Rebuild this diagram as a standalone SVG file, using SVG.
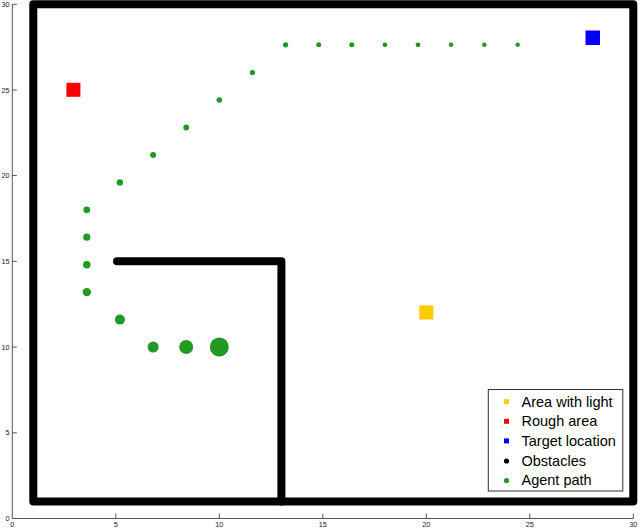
<svg xmlns="http://www.w3.org/2000/svg" width="640" height="528" viewBox="0 0 640 528">
<style>
.ax{stroke:#555;stroke-width:1;fill:none}
.tl{font-family:"Liberation Sans",Arial,sans-serif;font-size:7.3px;fill:#222}
.wall{stroke:#000;stroke-width:8;fill:none;stroke-linecap:round;stroke-linejoin:round}
.p{fill:#229922}
.lg{font-family:"Liberation Sans",Arial,sans-serif;font-size:14.5px;fill:#000}
</style>
<rect width="640" height="528" fill="#fff"/>
<g id="axes">
<path class="ax" d="M12.3,4V518.5H633.3"/>
<path class="ax" d="M12.3,4.3h4.5M12.3,90h4.5M12.3,175.5h4.5M12.3,261.3h4.5M12.3,347h4.5M12.3,432.8h4.5M115.8,518.5v-5M219.3,518.5v-5M322.8,518.5v-5M426.3,518.5v-5M529.8,518.5v-5M633.3,518.5v-5"/>
<g class="tl" text-anchor="end">
<text x="9.5" y="7">30</text>
<text x="9.5" y="92.5">25</text>
<text x="9.5" y="178">20</text>
<text x="9.5" y="263.8">15</text>
<text x="9.5" y="349.5">10</text>
<text x="9.5" y="435.3">5</text>
<text x="9.5" y="521">0</text>
</g>
<g class="tl" text-anchor="middle">
<text x="12.3" y="527">0</text>
<text x="115.8" y="527">5</text>
<text x="219.3" y="527">10</text>
<text x="322.8" y="527">15</text>
<text x="426.3" y="527">20</text>
<text x="529.8" y="527">25</text>
<text x="633.3" y="527">30</text>
</g>
</g>
<g id="obstacles">
<path class="wall" d="M33.3,501.5V4.3H633.3V501.5Z"/>
<path class="wall" d="M117,261.3H281.4V501.5"/>
</g>
<g id="areas">
<rect id="rough" x="66.4" y="82.8" width="14" height="14" fill="#ff0000"/>
<rect id="target" x="585.5" y="30.5" width="14.5" height="14.5" fill="#0000ff"/>
<rect id="light" x="419.3" y="305.5" width="14" height="14" fill="#ffcc00"/>
</g>
<g id="path">
<circle class="p" cx="219.3" cy="347" r="9.5"/>
<circle class="p" cx="186.2" cy="347" r="7"/>
<circle class="p" cx="153.1" cy="347" r="5.5"/>
<circle class="p" cx="119.9" cy="319.6" r="5"/>
<circle class="p" cx="86.8" cy="292.1" r="4.2"/>
<circle class="p" cx="86.8" cy="264.7" r="3.8"/>
<circle class="p" cx="86.8" cy="237.2" r="3.6"/>
<circle class="p" cx="86.8" cy="209.8" r="3.4"/>
<circle class="p" cx="119.9" cy="182.4" r="3.2"/>
<circle class="p" cx="153.1" cy="154.9" r="3"/>
<circle class="p" cx="186.2" cy="127.5" r="2.9"/>
<circle class="p" cx="219.3" cy="100" r="2.8"/>
<circle class="p" cx="252.4" cy="72.6" r="2.7"/>
<circle class="p" cx="285.6" cy="44.8" r="2.6"/>
<circle class="p" cx="318.7" cy="44.8" r="2.5"/>
<circle class="p" cx="351.8" cy="44.8" r="2.5"/>
<circle class="p" cx="384.9" cy="44.8" r="2.4"/>
<circle class="p" cx="418" cy="44.8" r="2.4"/>
<circle class="p" cx="451.1" cy="44.8" r="2.3"/>
<circle class="p" cx="484.3" cy="44.8" r="2.3"/>
<circle class="p" cx="517.7" cy="44.8" r="2.2"/>
</g>
<g id="legend">
<rect x="488.3" y="389.5" width="134.5" height="101.5" fill="#fff" stroke="#333" stroke-width="1"/>
<rect x="504" y="399.2" width="5" height="5" fill="#ffcc00"/>
<rect x="504" y="418.8" width="5" height="5" fill="#ff0000"/>
<rect x="504" y="438.4" width="5" height="5" fill="#0000ff"/>
<circle cx="506.5" cy="461" r="2.6" fill="#000"/>
<circle cx="506.5" cy="480.6" r="2.6" fill="#229922"/>
<text class="lg" x="521.5" y="406.7">Area with light</text>
<text class="lg" x="521.5" y="426.3">Rough area</text>
<text class="lg" x="521.5" y="445.9">Target location</text>
<text class="lg" x="521.5" y="465.5">Obstacles</text>
<text class="lg" x="521.5" y="485.1">Agent path</text>
</g>
</svg>
